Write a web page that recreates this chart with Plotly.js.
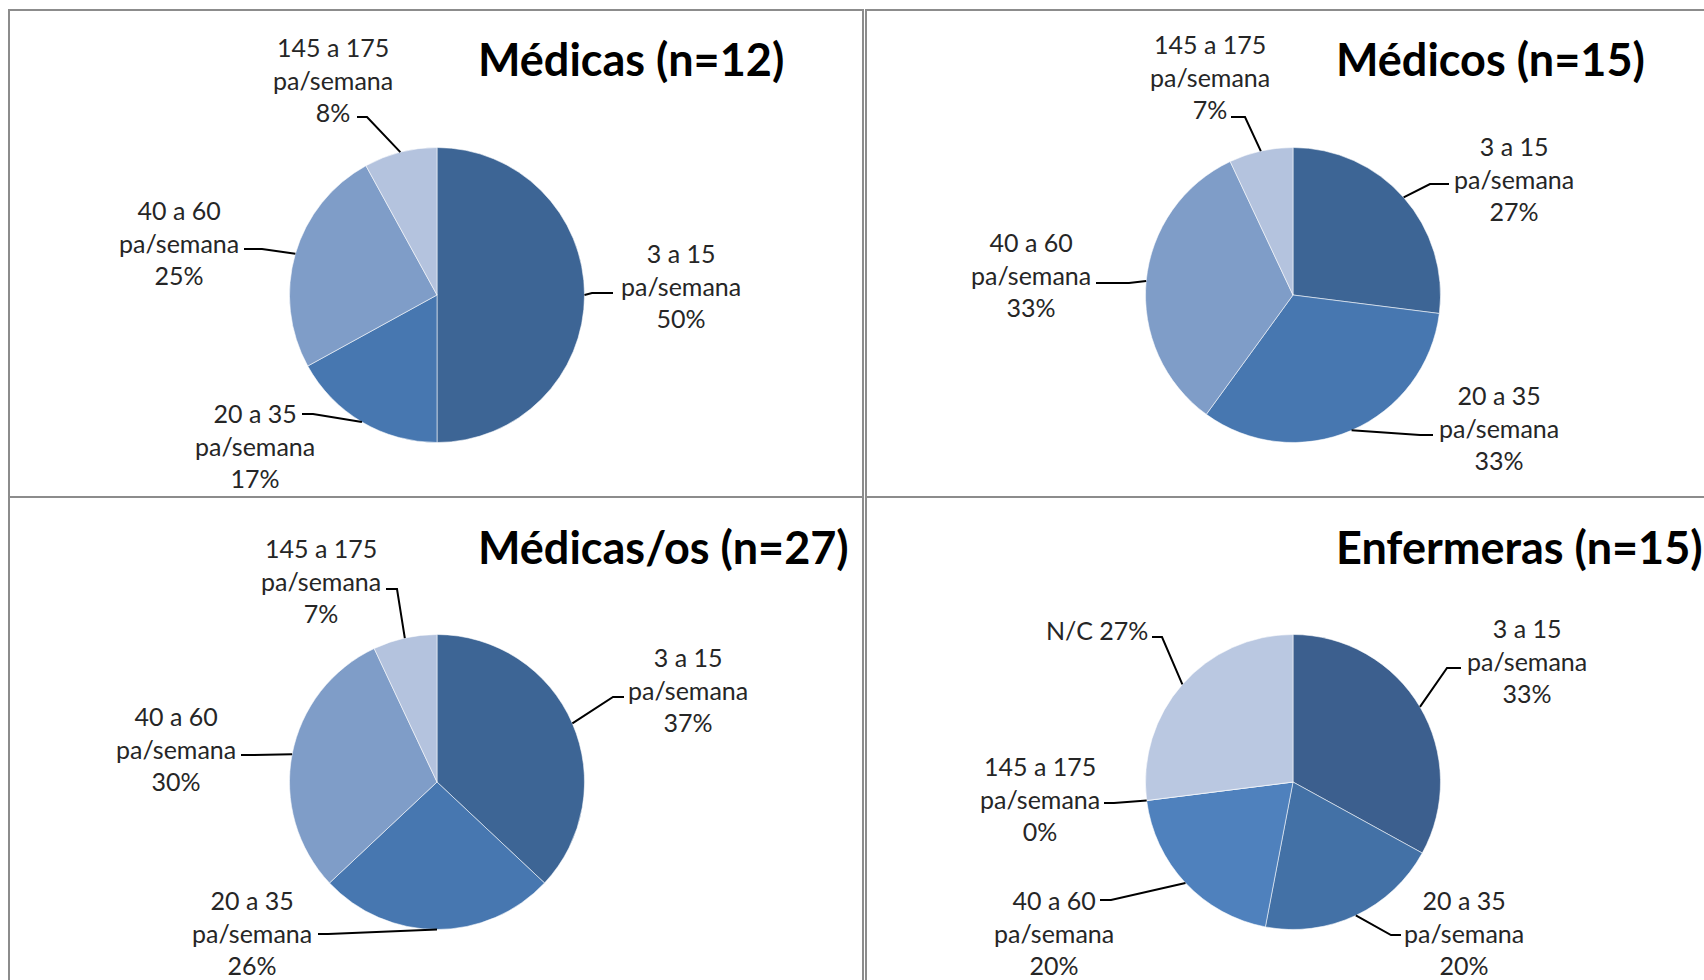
<!DOCTYPE html>
<html>
<head>
<meta charset="utf-8">
<script src="https://cdn.plot.ly/plotly-3.0.1.min.js"></script>
<style>
  html, body { margin: 0; padding: 0; background: #ffffff; }
  #chart { width: 1704px; height: 980px; }
</style>
</head>
<body>
<div id="chart"></div>
<script>
// Frecuencia de uso (pa/semana) por grupo profesional
const categories = ['3 a 15', '20 a 35', '40 a 60', '145 a 175'];
const enfermerasCategories = ['3 a 15', '20 a 35', '40 a 60', '145 a 175', 'N/C'];
const unit = 'pa/semana';

const medicasPct = [50, 17, 25, 8];
const medicosPct = [27, 33, 33, 7];
const medicasOsPct = [37, 26, 30, 7];
const enfermerasPct = [33, 20, 20, 0, 27];

const titles = ['Médicas (n=12)', 'Médicos (n=15)', 'Médicas/os (n=27)', 'Enfermeras (n=15)'];

const blues4 = ['#3D6595', '#4777B0', '#7F9DC8', '#B4C3DE'];
const blues5 = ['#3C5F8E', '#4371A6', '#4F81BD', '#8EA8D0', '#BAC8E1'];

// ---- page geometry (pixels, origin top-left) ----
const W = 1704, H = 980;
const R = 147.5;
const px = x => x / W;
const py = y => 1 - y / H;

// label placement for each panel: text centre and leader-line knee/tip
const panels = [
  {
    title: titles[0], cats: categories, vals: medicasPct, colors: blues4,
    cx: 437, cy: 295, titleX: 476, titleY: 59,
    labels: [
      {tx: 681, ty: 286, knee: [592, 293], tip: [613, 293]},
      {tx: 255, ty: 445, knee: [313, 414], tip: [302, 414]},
      {tx: 179, ty: 243, knee: [262, 249], tip: [244, 249]},
      {tx: 333, ty: 80,  knee: [367, 117], tip: [357, 117]}
    ]
  },
  {
    title: titles[1], cats: categories, vals: medicosPct, colors: blues4,
    cx: 1293, cy: 295, titleX: 1334, titleY: 59,
    labels: [
      {tx: 1514, ty: 179, knee: [1430, 184], tip: [1449, 184]},
      {tx: 1499, ty: 427, knee: [1420, 435], tip: [1433, 435]},
      {tx: 1031, ty: 275, knee: [1129, 283], tip: [1096, 283]},
      {tx: 1210, ty: 77,  knee: [1245, 117], tip: [1231, 117]}
    ]
  },
  {
    title: titles[2], cats: categories, vals: medicasOsPct, colors: blues4,
    cx: 437, cy: 782, titleX: 476, titleY: 547,
    labels: [
      {tx: 688, ty: 689, knee: [613, 697], tip: [624, 697]},
      {tx: 252, ty: 932, knee: [328, 934], tip: [318, 934]},
      {tx: 176, ty: 748, knee: [252, 755], tip: [241, 755]},
      {tx: 321, ty: 580, knee: [397, 589], tip: [386, 589]}
    ]
  },
  {
    title: titles[3], cats: enfermerasCategories, vals: enfermerasPct, colors: blues5,
    cx: 1293, cy: 782, titleX: 1334, titleY: 547,
    labels: [
      {tx: 1527, ty: 660, knee: [1447, 668], tip: [1461, 668]},
      {tx: 1464, ty: 932, knee: [1391, 935], tip: [1401, 935]},
      {tx: 1054, ty: 932, knee: [1111, 900], tip: [1100, 900]},
      {tx: 1040, ty: 798, knee: [1114, 803], tip: [1104, 803]},
      {tx: 1097, ty: 630, knee: [1162, 637], tip: [1152, 637], oneLine: true}
    ]
  }
];

const labelFont = {family: 'Lato, "Open Sans", sans-serif', size: 25, color: '#262626'};
const titleFont = {family: 'Lato, "Open Sans", sans-serif', size: 45, color: '#000000', weight: 700};

const traces = [];
const annotations = [];
const shapes = [];

// panel frames
const frameLine = {color: '#8C8C8C', width: 2};
[[9, 863, 10, 497], [866, 1720, 10, 497], [9, 863, 497, 1010], [866, 1720, 497, 1010]].forEach(f => {
  shapes.push({type: 'rect', xref: 'paper', yref: 'paper',
    x0: px(f[0]), x1: px(f[1]), y0: py(f[2]), y1: py(f[3]),
    line: frameLine, fillcolor: 'rgba(0,0,0,0)', layer: 'below'});
});

panels.forEach(p => {
  traces.push({
    type: 'pie',
    labels: p.cats,
    values: p.vals,
    sort: false,
    direction: 'clockwise',
    rotation: 0,
    textinfo: 'none',
    hoverinfo: 'label+percent',
    marker: {colors: p.colors, line: {color: 'rgba(255,255,255,0.55)', width: 1}},
    domain: {x: [px(p.cx - R), px(p.cx + R)], y: [py(p.cy + R), py(p.cy - R)]},
    showlegend: false
  });

  annotations.push({
    xref: 'paper', yref: 'paper', x: px(p.titleX), y: py(p.titleY),
    xanchor: 'left', yanchor: 'middle', showarrow: false,
    text: '<b>' + p.title + '</b>', font: titleFont
  });

  const total = p.vals.reduce((a, b) => a + b, 0);
  let cum = 0;
  p.vals.forEach((v, i) => {
    const mid = (cum + v / 2) / total * 2 * Math.PI;
    cum += v;
    const ex = p.cx + R * Math.sin(mid);
    const ey = p.cy - R * Math.cos(mid);
    const L = p.labels[i];
    const text = L.oneLine
      ? `${p.cats[i]} ${v}%`
      : `${p.cats[i]}<br>${unit}<br>${v}%`;
    annotations.push({
      xref: 'paper', yref: 'paper', x: px(L.tx), y: py(L.ty),
      xanchor: 'center', yanchor: 'middle', showarrow: false,
      text: text, font: labelFont, align: 'center'
    });
    shapes.push({
      type: 'path', xref: 'paper', yref: 'paper',
      path: `M ${px(ex)} ${py(ey)} L ${px(L.knee[0])} ${py(L.knee[1])} L ${px(L.tip[0])} ${py(L.tip[1])}`,
      line: {color: '#000000', width: 2}
    });
  });
});

const layout = {
  width: W, height: H,
  margin: {l: 0, r: 0, t: 0, b: 0},
  paper_bgcolor: '#ffffff',
  plot_bgcolor: '#ffffff',
  showlegend: false,
  annotations: annotations,
  shapes: shapes
};

Plotly.newPlot('chart', traces, layout, {displayModeBar: false, staticPlot: true});
</script>
</body>
</html>
